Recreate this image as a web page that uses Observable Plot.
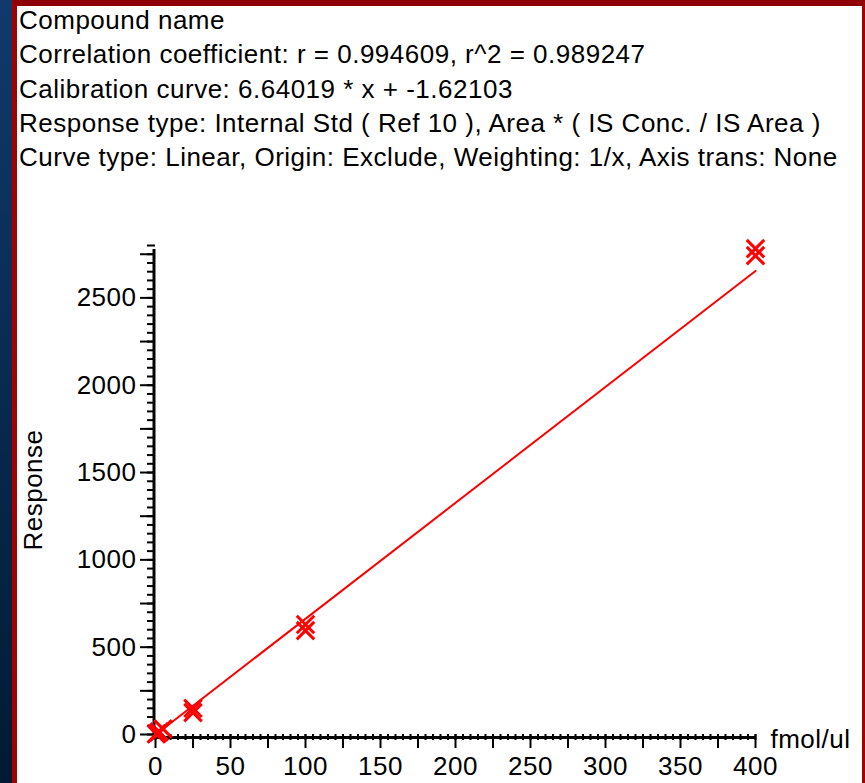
<!DOCTYPE html>
<html>
<head>
<meta charset="utf-8">
<script src="https://cdn.jsdelivr.net/npm/d3@7"></script>
<script src="https://cdn.jsdelivr.net/npm/@observablehq/plot@0.6"></script>
<style>
  html, body { margin: 0; padding: 0; }
  body { width: 865px; height: 783px; overflow: hidden; position: relative;
         background: linear-gradient(#0f3a6b, #011a33); font-family: "Liberation Sans", Arial, sans-serif; }
  #panel { position: absolute; left: 12px; top: 0; width: 845px; height: 777px;
           background: #fff; border-left: 5px solid #a30000; border-top: 6px solid #8e0000; border-right: 3px solid #a30000; }
  #header { position: absolute; left: 2px; top: -3px; color: #000; font-size: 26px; letter-spacing: 0.5px; line-height: 34.3px; white-space: nowrap; }
  #chart { position: absolute; left: 0; top: 184px; }
  #chart svg text { letter-spacing: 0.5px; }
</style>
</head>
<body>
<div id="panel">
  <div id="header"></div>
  <div id="chart"></div>
</div>
<script>
const headerLines = [
  "Compound name",
  "Correlation coefficient: r = 0.994609, r^2 = 0.989247",
  "Calibration curve: 6.64019 * x + -1.62103",
  "Response type: Internal Std ( Ref 10 ), Area * ( IS Conc. / IS Area )",
  "Curve type: Linear, Origin: Exclude, Weighting: 1/x, Axis trans: None"
];
const concentration = [0.5, 1, 2.5, 5, 25, 25, 100, 100, 400, 400];
const response = [3, 6, 15, 32, 150, 125, 630, 595, 2782, 2742];
const slope = 6.64019;
const intercept = -1.62103;
const xLabel = "fmol/ul";
const yLabel = "Response";
const xTickLabels = [0, 50, 100, 150, 200, 250, 300, 350, 400];
const yTickLabels = [0, 500, 1000, 1500, 2000, 2500];

const header = document.getElementById("header");
headerLines.forEach(t => { const d = document.createElement("div"); d.textContent = t; header.appendChild(d); });

const points = concentration.map((x, i) => ({x, y: response[i]}));
const xExt = d3.extent(concentration);
const fit = xExt.map(x => ({x, y: slope * x + intercept}));

const plot = Plot.plot({
  width: 845,
  height: 593,
  marginLeft: 138,
  marginRight: 107,
  marginTop: 55,
  marginBottom: 49,
  style: {fontFamily: "Liberation Sans, Arial, sans-serif", fontSize: "26px", color: "#000", background: "transparent"},
  x: {domain: [0, 400]},
  y: {domain: [0, 2800]},
  marks: [
    Plot.axisX({ticks: d3.range(0, 401, 5), tickSize: 6, tickFormat: () => "", strokeWidth: 2, label: null}),
    Plot.axisX({ticks: d3.range(0, 401, 25), tickSize: 14, tickFormat: () => "", strokeWidth: 2, label: null}),
    Plot.axisX({ticks: xTickLabels, tickSize: 0, tickPadding: 22, label: null, fontSize: 26}),
    Plot.axisY({ticks: d3.range(0, 2801, 50), tickSize: 8, tickFormat: () => "", strokeWidth: 2, label: null}),
    Plot.axisY({ticks: d3.range(0, 2801, 250), tickSize: 15, tickFormat: () => "", strokeWidth: 2, label: null}),
    Plot.axisY({ticks: yTickLabels, tickSize: 0, tickPadding: 19, label: null, fontSize: 26, tickFormat: d => String(d)}),
    Plot.ruleX([0], {y1: 0, y2: 2800, stroke: "#000", strokeWidth: 3, dx: -1.5, insetBottom: -4}),
    Plot.ruleY([0], {x1: 0, x2: 400, stroke: "#000", strokeWidth: 3, dy: 3, insetLeft: -3}),
    Plot.line(fit, {x: "x", y: "y", stroke: "#ff0000", strokeWidth: 2}),
    Plot.dot(points, {x: "x", y: "y", symbol: "times", r: 8, stroke: "#ff0000", strokeWidth: 3}),
    Plot.text([xLabel], {frameAnchor: "bottom-right", dx: 95, dy: 13, fontSize: 26, textAnchor: "end"}),
    Plot.text([yLabel], {frameAnchor: "left", dx: -122, dy: 0, rotate: -90, fontSize: 26, textAnchor: "middle"})
  ]
});
document.getElementById("chart").appendChild(plot);
</script>
</body>
</html>
